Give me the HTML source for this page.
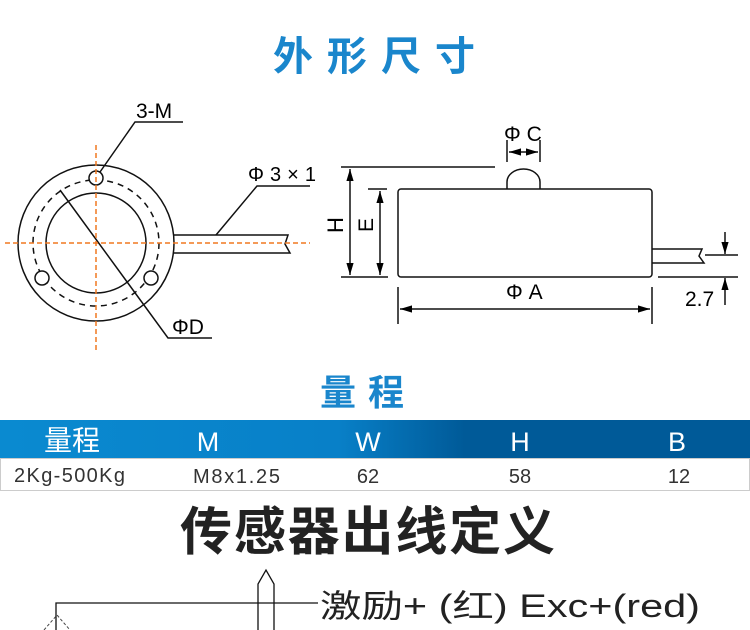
<!DOCTYPE html>
<html><head><meta charset="utf-8"><style>
body{margin:0;background:#fff;width:750px;height:630px;overflow:hidden}
svg{display:block}
text{font-family:"Liberation Sans","Noto Sans CJK SC",sans-serif}
</style></head><body>
<svg width="750" height="630" viewBox="0 0 750 630" xmlns="http://www.w3.org/2000/svg">
<defs>
<linearGradient id="hg" x1="0" x2="1" y1="0" y2="0">
<stop offset="0" stop-color="#0a8ad0"/><stop offset="0.45" stop-color="#0880c8"/><stop offset="0.62" stop-color="#005a98"/><stop offset="1" stop-color="#005a98"/>
</linearGradient>
<marker id="ar" viewBox="0 0 10 10" refX="10" refY="5" markerWidth="8" markerHeight="8" orient="auto-start-reverse"><path d="M0,2 L10,5 L0,8 z" fill="#000"/></marker>
</defs>
<text x="381" y="70" font-size="40" font-weight="bold" fill="#1a86cc" text-anchor="middle" letter-spacing="14" font-family="Noto Sans CJK SC,sans-serif">外形尺寸</text>

<g fill="none" stroke="#111" stroke-width="1.5">
<circle cx="96" cy="243" r="78"/>
<circle cx="96" cy="243" r="50"/>
<circle cx="96" cy="243" r="63" stroke-dasharray="6,5"/>
<circle cx="96" cy="178" r="7" fill="#fff"/>
<circle cx="42" cy="278" r="7" fill="#fff"/>
<circle cx="151" cy="278" r="7" fill="#fff"/>
<path d="M174,235 H288 L285,244 L290,253 H174"/>
<path d="M100,172 L135,122 H183"/>
<path d="M60,190 L168,338 H212"/>
<path d="M216,235 L257,186 H310"/>
</g>
<g stroke="#f07820" stroke-width="1.5" stroke-dasharray="5,3">
<line x1="96" y1="145" x2="96" y2="350"/>
<line x1="5" y1="243" x2="310" y2="243"/>
</g>
<text x="136" y="118" font-size="21">3-M</text>
<text x="172" y="334" font-size="21">ΦD</text>
<text x="248" y="181" font-size="20" textLength="68">Φ3×1</text>

<g fill="none" stroke="#111" stroke-width="1.5">
<rect x="398" y="189" width="254" height="88" rx="3"/>
<path d="M507,189 V182 A16.5,13 0 0 1 540,182 V189"/>
<line x1="507" y1="140" x2="507" y2="162"/><line x1="540" y1="140" x2="540" y2="162"/>
<line x1="509" y1="152" x2="538" y2="152" marker-start="url(#ar)" marker-end="url(#ar)"/>
<line x1="341" y1="167" x2="495" y2="167"/>
<line x1="341" y1="277" x2="388" y2="277"/>
<line x1="368" y1="189" x2="387" y2="189"/>
<line x1="350" y1="169" x2="350" y2="275" marker-start="url(#ar)" marker-end="url(#ar)"/>
<line x1="380" y1="191" x2="380" y2="275" marker-start="url(#ar)" marker-end="url(#ar)"/>
<line x1="398" y1="287" x2="398" y2="324"/><line x1="652" y1="287" x2="652" y2="324"/>
<line x1="400" y1="309" x2="650" y2="309" marker-start="url(#ar)" marker-end="url(#ar)"/>
<path d="M652,249 H702 L699,256 L704,263 H652"/>
<line x1="658" y1="277" x2="738" y2="277"/>
<line x1="705" y1="255" x2="738" y2="255"/>
<line x1="725" y1="232" x2="725" y2="254" marker-end="url(#ar)"/>
<line x1="725" y1="305" x2="725" y2="278" marker-end="url(#ar)"/>
</g>
<text x="504" y="141" font-size="21">Φ C</text>
<text x="506" y="299" font-size="21">Φ A</text>
<text x="685" y="306" font-size="21">2.7</text>
<text transform="translate(343,225) rotate(-90)" font-size="22" text-anchor="middle">H</text>
<text transform="translate(373,225) rotate(-90)" font-size="21" text-anchor="middle">E</text>

<text x="368" y="405" font-size="36" font-weight="bold" fill="#1a86cc" text-anchor="middle" letter-spacing="12" font-family="Noto Sans CJK SC,sans-serif">量程</text>

<rect x="0" y="420" width="750" height="38" fill="url(#hg)"/>
<rect x="0.5" y="458.5" width="749" height="32" fill="#fff" stroke="#ccc"/>
<g fill="#fff" font-size="27" text-anchor="middle">
<text x="72" y="450" font-family="Noto Sans CJK SC,sans-serif" font-size="28">量程</text>
<text x="208" y="451">M</text><text x="368" y="451">W</text><text x="520" y="451">H</text><text x="677" y="451">B</text>
</g>
<g fill="#333" font-size="20" text-anchor="middle">
<text x="14" y="482" text-anchor="start" textLength="111">2Kg-500Kg</text>
<text x="193" y="483" text-anchor="start" textLength="87">M8x1.25</text><text x="368" y="483">62</text><text x="520" y="483">58</text><text x="679" y="483">12</text>
</g>

<text x="180" y="550" font-size="52" font-weight="bold" fill="#222" textLength="375" font-family="Noto Sans CJK SC,sans-serif">传感器出线定义</text>

<g fill="none" stroke="#111" stroke-width="1.3">
<path d="M258,630 V584 L266,570 L274,584 V630"/>
<path d="M56,630 V603 H318"/>
</g>
<path d="M44,630 L57,615 L70,630" fill="none" stroke="#444" stroke-width="1" stroke-dasharray="3,2"/>
<text x="320" y="617" font-size="32" fill="#222" textLength="380" lengthAdjust="spacingAndGlyphs">激励+ (红) Exc+(red)</text>
</svg>
</body></html>
